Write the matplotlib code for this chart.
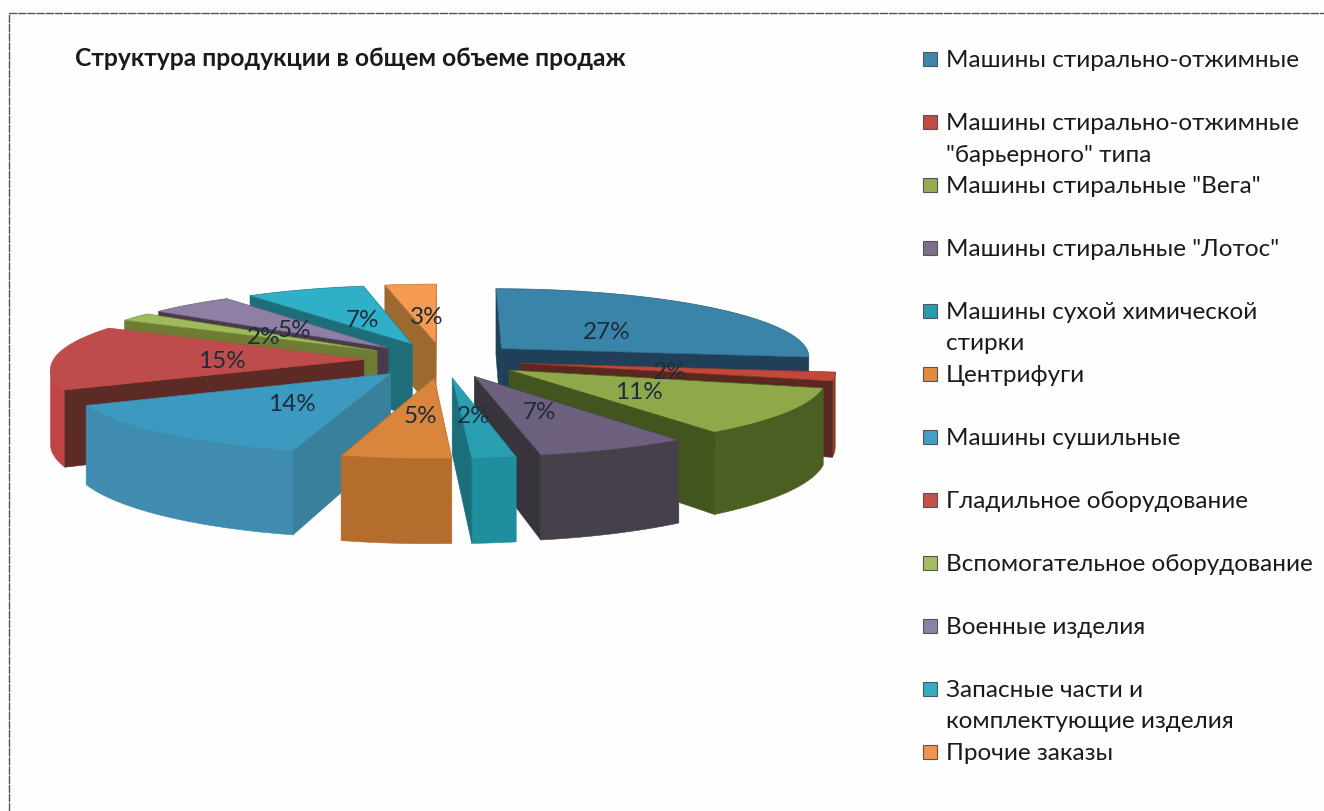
import numpy as np
import matplotlib
matplotlib.use("Agg")
import matplotlib.pyplot as plt
from matplotlib.patches import Polygon, Rectangle

plt.rcParams['font.family'] = ['Lato', 'Open Sans', 'DejaVu Sans']

title = "Структура продукции в общем объеме продаж"
categories = [
    "Машины стирально-отжимные",
    "Машины стирально-отжимные\n\"барьерного\" типа",
    "Машины стиральные \"Вега\"",
    "Машины стиральные \"Лотос\"",
    "Машины сухой химической\nстирки",
    "Центрифуги",
    "Машины сушильные",
    "Гладильное оборудование",
    "Вспомогательное оборудование",
    "Военные изделия",
    "Запасные части и\nкомплектующие изделия",
    "Прочие заказы",
]
shares = [27, 2, 11, 7, 2, 5, 14, 15, 2, 5, 7, 3]

top_colors = ["#3a84aa", "#c4473c", "#8fa94a", "#6d5f7e", "#2a9fb2", "#d9853c",
              "#3c9ac0", "#bf4c4c", "#9dbb5a", "#8e7fa5", "#2fb0c8", "#f59a50"]
rim_colors = ["#2a5f7c", "#8f3a25", "#4c5f22", "#46404a", "#1f8e9f", "#b56d2e",
              "#3f8cb0", "#c04444", "#7e9440", "#6f6285", "#1f7f8c", "#c07a3a"]
cut_colors = ["#1f4058", "#5a2820", "#43551e", "#38343c", "#1a6f7a", "#b06a2c",
              "#38809c", "#5c2b25", "#6e7d33", "#4a3a4a", "#1d6e78", "#9c6a30"]
legend_colors = ["#3f86ad", "#c24a44", "#96ab52", "#7c6f8a", "#2b9aad", "#e08a42",
                 "#42a0c6", "#c5504c", "#a3bb62", "#8e80a4", "#33aec6", "#f4934a"]

# projection parameters of the tilted pie (pixels)
CX, CY, RX, RY, P, DEPTH, EXPLODE, SKEW = 443, 360, 310.5, 68.4, 0.104, 74, 0.255, 4


def project(u, v, drop=0.0):
    u, v = np.asarray(u, float), np.asarray(v, float)
    s = 1 / (1 - P * v)
    return (CX + RX * u * s - SKEW * np.maximum(v, 0),
            CY + RY * v * s + drop * DEPTH * s)


def area(xs, ys):
    return 0.5 * np.sum(xs * np.roll(ys, -1) - np.roll(xs, -1) * ys)


fig = plt.figure(figsize=(13.24, 8.11), dpi=100, facecolor="#fefefe")
ax = fig.add_axes([0, 0, 1, 1])
ax.set_xlim(0, 1324)
ax.set_ylim(811, 0)
ax.axis("off")

# chart frame
ax.plot([9, 9, 1324], [811, 13, 13], color="#555555", lw=1.0, ls=(0, (6, 0.6)))

ax.text(75, 58, title, fontsize=17.75, fontweight="bold", color="#1a1a1a",
        va="center", ha="left")

fracs = np.array(shares) / sum(shares)
edges = np.concatenate([[0], np.cumsum(fracs)]) * 2 * np.pi
slices = []
for i in range(len(shares)):
    t0, t1 = edges[i], edges[i + 1]
    mid = (t0 + t1) / 2
    ou, ov = EXPLODE * np.sin(mid), -EXPLODE * np.cos(mid)
    slices.append((ov, i, t0, t1, mid, ou))


def draw_side(u0, v0, col, z):
    xt, yt = project(u0, v0)
    xb, yb = project(u0, v0, 1.0)
    ax.add_patch(Polygon(np.c_[np.r_[xt, xb[::-1]], np.r_[yt, yb[::-1]]], closed=True,
                         facecolor=col, edgecolor=col, lw=0.4, zorder=z))


for ov, i, t0, t1, mid, ou in sorted(slices):
    t = np.linspace(t0, t1, max(6, int((t1 - t0) * 60)))
    u = ou + np.sin(t)
    v = ov - np.cos(t)
    z = 2 + ov
    # outer rim: runs of segments that face the viewer
    vis = []
    for j in range(len(t) - 1):
        qu = np.array([u[j], u[j + 1]])
        qv = np.array([v[j], v[j + 1]])
        xt, yt = project(qu, qv)
        xb, yb = project(qu[::-1], qv[::-1], 1.0)
        vis.append(area(np.r_[xt, xb], np.r_[yt, yb]) < 0)
    j = 0
    while j < len(vis):
        if vis[j]:
            k = j
            while k + 1 < len(vis) and vis[k + 1]:
                k += 1
            draw_side(u[j:k + 2], v[j:k + 2], rim_colors[i], z)
            j = k + 1
        else:
            j += 1
    # radial cut faces
    for a in (0, 1):
        idx = 0 if a == 0 else -1
        pu = np.array([ou, u[idx]] if a == 0 else [u[idx], ou])
        pv = np.array([ov, v[idx]] if a == 0 else [v[idx], ov])
        xt, yt = project(pu, pv)
        xb, yb = project(pu[::-1], pv[::-1], 1.0)
        if area(np.r_[xt, xb], np.r_[yt, yb]) < 0:
            draw_side(pu, pv, cut_colors[i], z)
    x, y = project(np.r_[ou, u], np.r_[ov, v])
    ax.add_patch(Polygon(np.c_[x, y], closed=True, facecolor=top_colors[i],
                         edgecolor=rim_colors[i], lw=0.5, zorder=z + 0.001))

for ov, i, t0, t1, mid, ou in slices:
    lx, ly = project(ou + 0.47 * np.sin(mid), ov - 0.47 * np.cos(mid))
    ax.text(lx + 3, ly + 3.5, f"{shares[i]}%", fontsize=17.5, color="#1d2b3a",
            ha="center", va="center", zorder=20)

# legend: every entry takes two text rows
for i, name in enumerate(categories):
    y = 59 + 63 * i
    ax.add_patch(Rectangle((923, y - 7), 14, 14, facecolor=legend_colors[i],
                           edgecolor="#555555", lw=0.8, zorder=5))
    for row, line in enumerate(name.split("\n")):
        ax.text(946, y + 1.5 + 31.5 * row, line, fontsize=17.45, color="#1a1a1a",
                va="center", ha="left")

fig.savefig("out.png", dpi=100, facecolor=fig.get_facecolor())
